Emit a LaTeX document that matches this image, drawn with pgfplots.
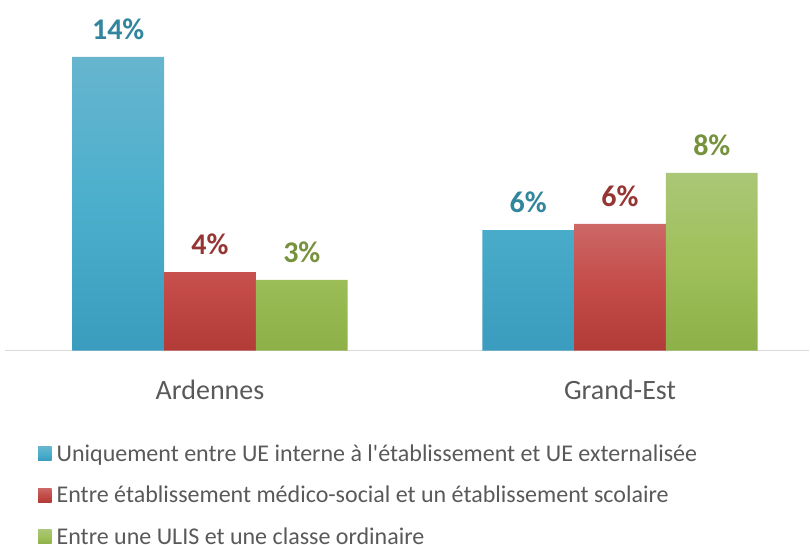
\documentclass[border=0pt]{standalone}
\usepackage{fontspec}
\setmainfont{Carlito}[Ligatures=TeXOff]
\usepackage{pgfplots}
\pgfplotsset{compat=1.18}
\definecolor{bTop}{HTML}{67B5CF}
\definecolor{bMid}{HTML}{4BAFCC}
\definecolor{bBot}{HTML}{3A9CBE}
\definecolor{rTop}{HTML}{CC6866}
\definecolor{rMid}{HTML}{C44B48}
\definecolor{rBot}{HTML}{B23B37}
\definecolor{gTop}{HTML}{AAC777}
\definecolor{gMid}{HTML}{9FC05A}
\definecolor{gBot}{HTML}{8DB048}
\definecolor{bLab}{HTML}{31859C}
\definecolor{rLab}{HTML}{963634}
\definecolor{gLab}{HTML}{76923C}
\definecolor{txt}{HTML}{595959}
\definecolor{axl}{HTML}{D9D9D9}
\begin{document}
\begin{tikzpicture}
\path[use as bounding box] (0,0) rectangle (810pt,544pt);
\begin{axis}[
  at={(5pt,193.3pt)}, anchor=south west,
  scale only axis, width=803.6pt, height=350.4pt,
  xmin=-0.5, xmax=1.46, ymin=0, ymax=16.7,
  clip=false,
  /pgf/number format/assume math mode=true,
  ybar=0pt, bar width=91.8pt,
  axis x line=bottom, axis y line=none,
  x axis line style={draw=axl, line width=1.5pt, -},
  xtick={0,1}, xticklabels={Ardennes,Grand-Est},
  major tick length=0pt,
  xticklabel style={font=\fontsize{28}{30}\selectfont, text=txt, anchor=base, yshift=-48.5pt},
  nodes near coords={\pgfmathprintnumber[fixed,precision=0,assume math mode=true]{\pgfplotspointmeta}\%},
  nodes near coords style={font=\fontsize{30}{32}\selectfont\bfseries, anchor=south, yshift=14pt},
  legend style={at={(0.041,-0.267)}, anchor=north west, draw=none, fill=none,
    font=\fontsize{24}{26}\selectfont, text=txt, row sep=23.5pt, cells={anchor=west},
    inner sep=0pt, nodes={inner xsep=5pt, inner ysep=0pt}},
  legend cell align=left,
  legend image code/.code={\path[#1,draw=none] (0pt,-7pt) rectangle (13.5pt,7pt);},
]
\addplot[draw=none, top color=bTop, bottom color=bBot, middle color=bMid,
  nodes near coords style={text=bLab}] coordinates {(0,14.0) (1,5.75)};
\addplot[draw=none, top color=rTop, bottom color=rBot, middle color=rMid,
  nodes near coords style={text=rLab}] coordinates {(0,3.75) (1,6.04)};
\addplot[draw=none, top color=gTop, bottom color=gBot, middle color=gMid,
  nodes near coords style={text=gLab}] coordinates {(0,3.37) (1,8.47)};
\legend{Uniquement entre UE interne à l'établissement et UE externalisée,
  Entre établissement médico-social et un établissement scolaire,
  Entre une ULIS et une classe ordinaire}
\end{axis}
\end{tikzpicture}
\end{document}
